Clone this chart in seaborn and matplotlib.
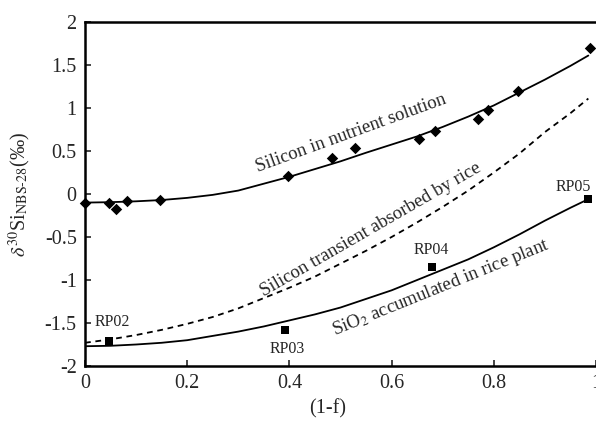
import matplotlib
matplotlib.use("Agg")
import matplotlib.pyplot as plt
import seaborn as sns
import pandas as pd

# Measured silicon isotope composition of the nutrient solution
solution_x = [0.0, 0.047, 0.06, 0.082, 0.147, 0.397, 0.484, 0.528, 0.654, 0.685, 0.769, 0.789, 0.847, 0.988]
solution_d30 = [-0.10, -0.10, -0.17, -0.08, -0.07, 0.21, 0.42, 0.53, 0.64, 0.73, 0.87, 0.98, 1.20, 1.70]

# Rice plant samples
plant_labels = ["RP02", "RP03", "RP04", "RP05"]
plant_x = [0.046, 0.392, 0.680, 0.985]
plant_d30 = [-1.71, -1.58, -0.845, -0.06]

# Model curves
curve_x = [0.0, 0.05, 0.10, 0.15, 0.20, 0.25, 0.30, 0.35, 0.40, 0.45, 0.50,
           0.55, 0.60, 0.65, 0.70, 0.75, 0.80, 0.85, 0.90, 0.95, 0.985]
curve_solution = [-0.10, -0.095, -0.085, -0.07, -0.045, -0.01, 0.04, 0.12, 0.20, 0.29, 0.38,
                  0.48, 0.575, 0.67, 0.78, 0.90, 1.03, 1.18, 1.33, 1.49, 1.61]
curve_transient = [-1.73, -1.69, -1.64, -1.58, -1.51, -1.43, -1.33, -1.21, -1.09, -0.96, -0.81,
                   -0.66, -0.50, -0.33, -0.15, 0.04, 0.25, 0.47, 0.72, 0.94, 1.11]
curve_accumulated = [-1.77, -1.765, -1.75, -1.73, -1.70, -1.65, -1.60, -1.54, -1.47, -1.40, -1.32,
                     -1.22, -1.12, -1.00, -0.88, -0.76, -0.62, -0.47, -0.31, -0.16, -0.06]

x_ticks = [0, 0.2, 0.4, 0.6, 0.8, 1]
x_ticklabels = ["0", "0.2", "0.4", "0.6", "0.8", "1"]
y_ticks = [-2, -1.5, -1, -0.5, 0, 0.5, 1, 1.5, 2]
y_ticklabels = ["-2", "-1.5", "-1", "-0.5", "0", "0.5", "1", "1.5", "2"]

sns.set_style("ticks")
plt.rcParams["font.family"] = ["Liberation Serif", "DejaVu Serif"]
plt.rcParams["mathtext.fontset"] = "stix"

curves = pd.DataFrame({"x": curve_x, "solution": curve_solution,
                       "transient": curve_transient, "accumulated": curve_accumulated})
sol = pd.DataFrame({"x": solution_x, "d30": solution_d30})
plant = pd.DataFrame({"x": plant_x, "d30": plant_d30, "label": plant_labels})

fig = plt.figure(figsize=(5.96, 4.26), dpi=100)
ax = fig.add_axes([85 / 596, 60 / 426, 511 / 596, 344 / 426])

sns.lineplot(data=curves, x="x", y="solution", ax=ax, color="black", lw=1.3)
sns.lineplot(data=curves, x="x", y="transient", ax=ax, color="black", lw=1.3,
             dashes=False)
ax.lines[-1].set_dashes((3.2, 2.6))
sns.lineplot(data=curves, x="x", y="accumulated", ax=ax, color="black", lw=1.3)

sns.scatterplot(data=sol, x="x", y="d30", ax=ax, marker="D", s=34, color="black",
                linewidth=0, zorder=5, clip_on=False)
sns.scatterplot(data=plant, x="x", y="d30", ax=ax, marker="s", s=30, color="black",
                linewidth=0, zorder=5, clip_on=False)

label_pos = {"RP02": (0.053, -1.49), "RP03": (0.396, -1.80),
             "RP04": (0.678, -0.65), "RP05": (0.955, 0.08)}
for lab in plant_labels:
    lx, ly = label_pos[lab]
    ax.text(lx, ly, lab, ha="center", va="center", fontsize=11.5)

ax.text(0.52, 0.70, "Silicon in nutrient solution", rotation=20,
        rotation_mode="anchor", ha="center", va="center", fontsize=13.5)
ax.text(0.559, -0.42, "Silicon transient absorbed by rice", rotation=30,
        rotation_mode="anchor", ha="center", va="center", fontsize=13.5)
ax.text(0.696, -1.09, "SiO$_2$ accumulated in rice plant", rotation=22,
        rotation_mode="anchor", ha="center", va="center", fontsize=13.5)

ax.set_xlim(0, 1)
ax.set_ylim(-2, 2)
ax.set_xticks(x_ticks)
ax.set_xticklabels(x_ticklabels)
ax.set_yticks(y_ticks)
ax.set_yticklabels(y_ticklabels)
ax.tick_params(direction="in", length=4, width=1.2, labelsize=14.5, pad=6)

for side in ["left", "bottom", "top"]:
    ax.spines[side].set_linewidth(1.8)
    ax.spines[side].set_color("black")
ax.spines["right"].set_visible(False)

ax.set_xlabel("(1-f)", fontsize=14.5)
ax.xaxis.set_label_coords((328 - 85) / 511, (366 - 399) / 344)
ax.set_ylabel(r"$\delta^{30}$Si$_{\mathrm{NBS\text{-}28}}$(‰)", fontsize=14.5)
ax.yaxis.set_label_coords((33 - 85) / 511, 0.5)

fig.savefig("out.png", dpi=100)
